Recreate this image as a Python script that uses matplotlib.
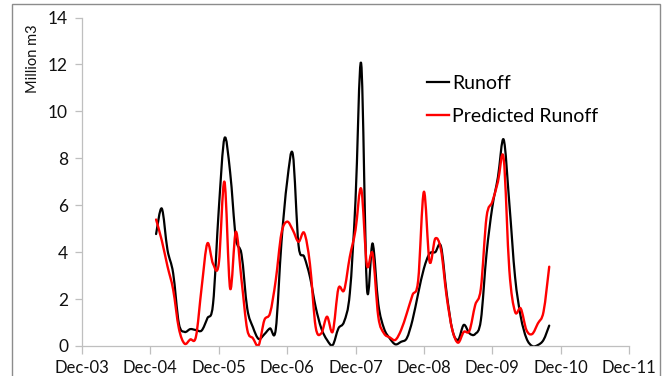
import numpy as np
import matplotlib
matplotlib.use('Agg')
import matplotlib.pyplot as plt
from matplotlib.path import Path
from matplotlib.patches import PathPatch, Rectangle
from matplotlib.lines import Line2D

plt.rcParams['font.family'] = ['Lato', 'DejaVu Sans']

# x positions: months counted from Dec-03 (Dec-03 = 0)
tick_positions = [0, 12, 24, 36, 48, 60, 72, 84, 96]
tick_labels = ['Dec-03', 'Dec-04', 'Dec-05', 'Dec-06', 'Dec-07',
               'Dec-08', 'Dec-09', 'Dec-10', 'Dec-11']
y_ticks = [0, 2, 4, 6, 8, 10, 12, 14]

# monthly data Jan-05 .. Oct-10
month_index = list(range(13, 83))

runoff = [4.77, 5.86, 4.1, 3.1, 0.96, 0.6, 0.72, 0.68, 0.66, 1.18, 1.8,
          5.8, 8.85, 7.4, 4.6, 3.9, 1.6, 0.8, 0.3, 0.5, 0.75, 0.7,
          4.4, 7.0, 8.17, 4.3, 3.8, 2.95, 1.67, 0.75, 0.26, 0.04, 0.75, 1.04,
          2.24, 6.2, 12.03, 2.5, 4.37, 1.8, 0.75, 0.33, 0.07, 0.18, 0.33, 1.1,
          2.24, 3.3, 3.94, 4.0, 4.25, 2.24, 0.68, 0.26, 0.9, 0.54, 0.51, 1.1,
          3.94, 5.9, 7.2, 8.8, 6.07, 2.95, 1.25, 0.33, 0.0, 0.04, 0.26, 0.87]

predicted = [5.39, 4.5, 3.4, 2.4, 0.75, 0.1, 0.28, 0.4, 2.5, 4.37, 3.5,
             3.5, 7.0, 2.45, 4.87, 2.8, 0.7, 0.33, 0.03, 1.1, 1.4, 2.8,
             4.8, 5.3, 4.94, 4.44, 4.82, 3.5, 0.82, 0.54, 1.25, 0.61, 2.45, 2.38,
             3.8, 4.94, 6.7, 3.45, 3.94, 1.25, 0.54, 0.37, 0.26, 0.68, 1.39, 2.17,
             2.8, 6.57, 3.59, 4.58, 4.1, 2.1, 0.68, 0.14, 0.6, 0.65, 1.74, 2.45,
             5.5, 6.14, 7.0, 8.0, 3.23, 1.46, 1.6, 0.68, 0.51, 0.96, 1.46, 3.38]


def smooth_path(x, y):
    """Smoothed line through the data points (like a spreadsheet 'smoothed line')."""
    x = np.asarray(x, float)
    y = np.asarray(y, float)
    n = len(x)
    verts = [(x[0], y[0])]
    codes = [Path.MOVETO]
    for i in range(n - 1):
        a = i - 1 if i > 0 else i
        d = i + 2 if i + 2 < n else i + 1
        c1 = (x[i] + (x[i + 1] - x[a]) / 6.0, y[i] + (y[i + 1] - y[a]) / 6.0)
        c2 = (x[i + 1] - (x[d] - x[i]) / 6.0, y[i + 1] - (y[d] - y[i]) / 6.0)
        verts += [c1, c2, (x[i + 1], y[i + 1])]
        codes += [Path.CURVE4] * 3
    return Path(verts, codes)


fig = plt.figure(figsize=(6.71, 3.76), dpi=100)
fig.patch.set_facecolor('white')

# outer chart border
fig.patches.append(Rectangle((12 / 671, -0.1), (660 - 12) / 671, 1.1 - 4 / 376,
                             transform=fig.transFigure, fill=False,
                             edgecolor='#8c8c8c', linewidth=1.0))

ax = fig.add_axes([82 / 671, 30 / 376, (629 - 82) / 671, (346 - 17.5) / 376])

ax.add_patch(PathPatch(smooth_path(month_index, runoff), fill=False,
                       edgecolor='black', linewidth=1.6, capstyle='round',
                       joinstyle='round'))
ax.add_patch(PathPatch(smooth_path(month_index, predicted), fill=False,
                       edgecolor='#ff0000', linewidth=1.7, capstyle='round',
                       joinstyle='round'))

ax.set_xlim(0, 96)
ax.set_ylim(0, 14)
ax.set_xticks(tick_positions)
ax.set_xticklabels(tick_labels)
ax.set_yticks(y_ticks)

for s in ['top', 'right']:
    ax.spines[s].set_visible(False)
for s in ['left', 'bottom']:
    ax.spines[s].set_color('#bfbfbf')
    ax.spines[s].set_linewidth(0.9)

ax.tick_params(axis='y', length=5, width=0.9, color='#bfbfbf', labelsize=12.5,
               pad=5, labelcolor='#111111')
ax.tick_params(axis='x', length=6, width=0.9, color='#bfbfbf', labelsize=12,
               pad=4, labelcolor='#111111')

fig.text(33 / 671, 1 - 59 / 376, 'Million m3', rotation=90, ha='center',
         va='center', fontsize=10.5, color='#111111')

handles = [Line2D([], [], color='black', linewidth=1.6),
           Line2D([], [], color='#ff0000', linewidth=1.7)]
ax.legend(handles, ['Runoff', 'Predicted Runoff'], loc='upper left',
          bbox_to_anchor=(427 / 671, 1 - 75 / 376), bbox_transform=fig.transFigure,
          frameon=False, fontsize=14, handlelength=1.15, handletextpad=0.15,
          borderpad=0, borderaxespad=0, labelspacing=0.8)

fig.savefig('out.png', dpi=100)
